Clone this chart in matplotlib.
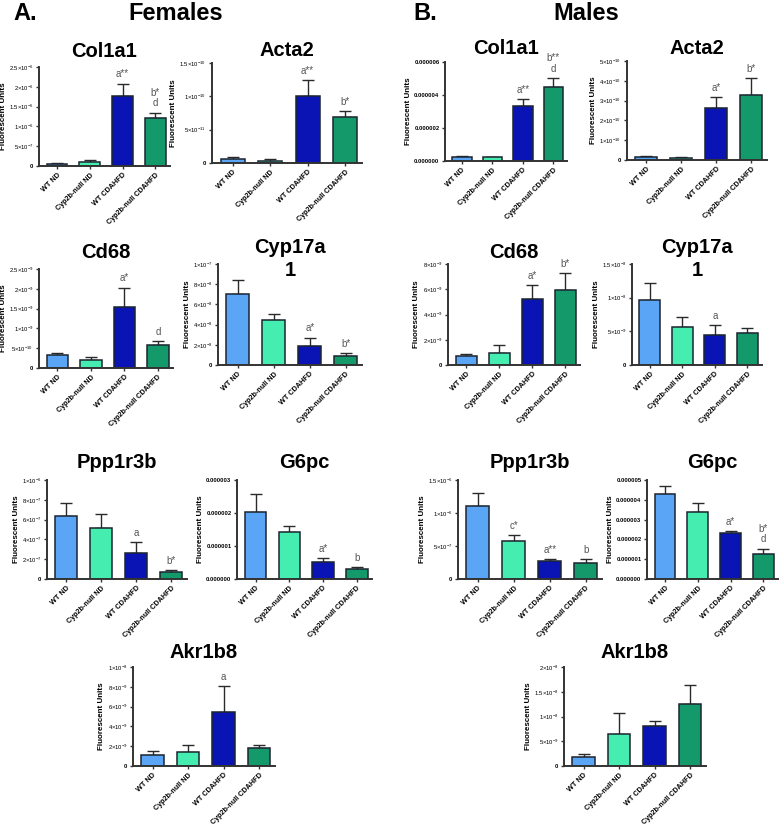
import matplotlib.pyplot as plt
import numpy as np

plt.rcParams['font.family'] = ['Liberation Sans', 'DejaVu Sans']
plt.rcParams['mathtext.fontset'] = 'custom'
plt.rcParams['mathtext.rm'] = 'Liberation Sans'
plt.rcParams['mathtext.bf'] = 'Liberation Sans:bold'

groups = ['WT ND', 'Cyp2b-null ND', 'WT CDAHFD', 'Cyp2b-null CDAHFD']
colors = ['#5aa5f5', '#45eeb0', '#0a14b4', '#13996a']

# Females
f_col1a1 = [0.06e-6, 0.10e-6, 1.78e-6, 1.21e-6]
f_col1a1_err = [0.02e-6, 0.05e-6, 0.30e-6, 0.14e-6]
f_acta2 = [0.055e-10, 0.035e-10, 1.01e-10, 0.685e-10]
f_acta2_err = [0.035e-10, 0.03e-10, 0.23e-10, 0.095e-10]
f_cd68 = [0.33e-9, 0.20e-9, 1.54e-9, 0.57e-9]
f_cd68_err = [0.06e-9, 0.09e-9, 0.49e-9, 0.12e-9]
f_cyp17a1 = [7.05e-8, 4.50e-8, 1.89e-8, 0.86e-8]
f_cyp17a1_err = [1.39e-8, 0.57e-8, 0.83e-8, 0.33e-8]
f_ppp1r3b = [0.64e-6, 0.513e-6, 0.26e-6, 0.07e-6]
f_ppp1r3b_err = [0.13e-6, 0.147e-6, 0.11e-6, 0.024e-6]
f_g6pc = [2.02e-6, 1.41e-6, 0.52e-6, 0.31e-6]
f_g6pc_err = [0.55e-6, 0.19e-6, 0.12e-6, 0.05e-6]
f_akr1b8 = [1.11e-9, 1.44e-9, 5.44e-9, 1.85e-9]
f_akr1b8_err = [0.40e-9, 0.71e-9, 2.61e-9, 0.30e-9]

# Males
m_col1a1 = [0.22e-6, 0.22e-6, 3.32e-6, 4.51e-6]
m_col1a1_err = [0.06e-6, 0.04e-6, 0.42e-6, 0.52e-6]
m_acta2 = [0.13e-10, 0.08e-10, 2.63e-10, 3.29e-10]
m_acta2_err = [0.07e-10, 0.05e-10, 0.56e-10, 0.84e-10]
m_cd68 = [0.72e-9, 0.95e-9, 5.19e-9, 5.91e-9]
m_cd68_err = [0.15e-9, 0.64e-9, 1.17e-9, 1.37e-9]
m_cyp17a1 = [0.97e-8, 0.57e-8, 0.44e-8, 0.48e-8]
m_cyp17a1_err = [0.25e-8, 0.14e-8, 0.15e-8, 0.07e-8]
m_ppp1r3b = [1.107e-6, 0.57e-6, 0.28e-6, 0.24e-6]
m_ppp1r3b_err = [0.19e-6, 0.10e-6, 0.02e-6, 0.057e-6]
m_g6pc = [4.30e-6, 3.39e-6, 2.30e-6, 1.24e-6]
m_g6pc_err = [0.42e-6, 0.45e-6, 0.13e-6, 0.30e-6]
m_akr1b8 = [0.19e-8, 0.65e-8, 0.805e-8, 1.255e-8]
m_akr1b8_err = [0.05e-8, 0.42e-8, 0.095e-8, 0.385e-8]

# y tick values and labels
def sci(m, e):
    return r'$%s{\times}10^{%d}$' % (m, e)

f_col1a1_ticks = [0, 0.5e-6, 1e-6, 1.5e-6, 2e-6, 2.5e-6]
f_col1a1_labels = ['0', sci('5', -7), sci('1', -6), sci('1.5', -6), sci('2', -6), sci('2.5', -6)]
f_acta2_ticks = [0, 0.5e-10, 1e-10, 1.5e-10]
f_acta2_labels = ['0', sci('5', -11), sci('1', -10), sci('1.5', -10)]
f_cd68_ticks = [0, 0.5e-9, 1e-9, 1.5e-9, 2e-9, 2.5e-9]
f_cd68_labels = ['0', sci('5', -10), sci('1', -9), sci('1.5', -9), sci('2', -9), sci('2.5', -9)]
f_cyp17a1_ticks = [0, 2e-8, 4e-8, 6e-8, 8e-8, 1e-7]
f_cyp17a1_labels = ['0', sci('2', -8), sci('4', -8), sci('6', -8), sci('8', -8), sci('1', -7)]
f_ppp1r3b_ticks = [0, 2e-7, 4e-7, 6e-7, 8e-7, 1e-6]
f_ppp1r3b_labels = ['0', sci('2', -7), sci('4', -7), sci('6', -7), sci('8', -7), sci('1', -6)]
f_g6pc_ticks = [0, 1e-6, 2e-6, 3e-6]
f_g6pc_labels = ['0.000000', '0.000001', '0.000002', '0.000003']
f_akr1b8_ticks = [0, 2e-9, 4e-9, 6e-9, 8e-9, 1e-8]
f_akr1b8_labels = ['0', sci('2', -9), sci('4', -9), sci('6', -9), sci('8', -9), sci('1', -8)]

m_col1a1_ticks = [0, 2e-6, 4e-6, 6e-6]
m_col1a1_labels = ['0.000000', '0.000002', '0.000004', '0.000006']
m_acta2_ticks = [0, 1e-10, 2e-10, 3e-10, 4e-10, 5e-10]
m_acta2_labels = ['0', sci('1', -10), sci('2', -10), sci('3', -10), sci('4', -10), sci('5', -10)]
m_cd68_ticks = [0, 2e-9, 4e-9, 6e-9, 8e-9]
m_cd68_labels = ['0', sci('2', -9), sci('4', -9), sci('6', -9), sci('8', -9)]
m_cyp17a1_ticks = [0, 0.5e-8, 1e-8, 1.5e-8]
m_cyp17a1_labels = ['0', sci('5', -9), sci('1', -8), sci('1.5', -8)]
m_ppp1r3b_ticks = [0, 0.5e-6, 1e-6, 1.5e-6]
m_ppp1r3b_labels = ['0', sci('5', -7), sci('1', -6), sci('1.5', -6)]
m_g6pc_ticks = [0, 1e-6, 2e-6, 3e-6, 4e-6, 5e-6]
m_g6pc_labels = ['0.000000', '0.000001', '0.000002', '0.000003', '0.000004', '0.000005']
m_akr1b8_ticks = [0, 0.5e-8, 1e-8, 1.5e-8, 2e-8]
m_akr1b8_labels = ['0', sci('5', -9), sci('1', -8), sci('1.5', -8), sci('2', -8)]

W, H = 780, 827
fig = plt.figure(figsize=(W / 100, H / 100), dpi=100)


def panel(box, title, vals, errs, ticks, labels, notes, title_dy=-15):
    # box: axes edges in pixels (left, top, right, bottom)
    x0, yt, x1, yb = box
    ax = fig.add_axes([x0 / W, 1 - yb / H, (x1 - x0) / W, (yb - yt) / H])
    x = np.arange(len(groups))
    ax.bar(x, vals, width=0.64, color=colors, edgecolor='#1c2530', linewidth=1.1, zorder=2)
    ax.errorbar(x, vals, yerr=[np.zeros(4), errs], fmt='none', ecolor='#2a2a2a',
                elinewidth=1.0, capsize=4.5, capthick=1.0, zorder=1)
    ax.set_xlim(-0.55, 3.45)
    ax.set_ylim(0, ticks[-1])
    ax.set_yticks(ticks)
    ax.set_yticklabels(labels, fontsize=4.2, fontweight='bold')
    ax.set_xticks(x)
    ax.set_xticklabels(groups, rotation=45, ha='right', rotation_mode='anchor',
                       fontsize=5.2, fontweight='bold')
    ax.tick_params(axis='both', length=2.5, width=1.0, pad=1.5, color='#333333')
    for s in ['top', 'right']:
        ax.spines[s].set_visible(False)
    for s in ['left', 'bottom']:
        ax.spines[s].set_linewidth(1.4)
        ax.spines[s].set_color('#333333')
    ax.set_ylabel('Fluorescent Units', fontsize=5.8, fontweight='bold', labelpad=1.5)
    ax.annotate(title, (0.5, 1), xycoords='axes fraction', xytext=(0, -title_dy * 0.72),
                textcoords='offset points', ha='center', va='center',
                fontsize=14.5, fontweight='bold', linespacing=1.3)
    for i, txt in notes.items():
        ax.annotate(txt, (i, vals[i] + errs[i]), xytext=(0, 3), textcoords='offset points',
                    ha='center', va='bottom', fontsize=7, color='#555555', linespacing=1.1)
    return ax


panel((39, 67, 170, 166), 'Col1a1', f_col1a1, f_col1a1_err, f_col1a1_ticks, f_col1a1_labels,
      {2: 'a**', 3: 'b*\nd'})
panel((212, 63, 362, 163), 'Acta2', f_acta2, f_acta2_err, f_acta2_ticks, f_acta2_labels,
      {2: 'a**', 3: 'b*'}, -13)
panel((39, 269, 173, 368), 'Cd68', f_cd68, f_cd68_err, f_cd68_ticks, f_cd68_labels,
      {2: 'a*', 3: 'd'}, -17)
panel((218, 264, 362, 365), 'Cyp17a\n1', f_cyp17a1, f_cyp17a1_err, f_cyp17a1_ticks,
      f_cyp17a1_labels, {2: 'a*', 3: 'b*'}, -5)
panel((47, 480, 187, 579), 'Ppp1r3b', f_ppp1r3b, f_ppp1r3b_err, f_ppp1r3b_ticks,
      f_ppp1r3b_labels, {2: 'a', 3: 'b*'}, -17)
panel((237, 480, 372, 579), 'G6pc', f_g6pc, f_g6pc_err, f_g6pc_ticks, f_g6pc_labels,
      {2: 'a*', 3: 'b'}, -17)
panel((133, 667, 275, 766), 'Akr1b8', f_akr1b8, f_akr1b8_err, f_akr1b8_ticks, f_akr1b8_labels,
      {2: 'a'}, -14)

panel((445, 62, 567, 161), 'Col1a1', m_col1a1, m_col1a1_err, m_col1a1_ticks, m_col1a1_labels,
      {2: 'a**', 3: 'b**\nd'}, -14)
panel((627, 61, 767, 160), 'Acta2', m_acta2, m_acta2_err, m_acta2_ticks, m_acta2_labels,
      {2: 'a*', 3: 'b*'}, -12)
panel((448, 264, 580, 365), 'Cd68', m_cd68, m_cd68_err, m_cd68_ticks, m_cd68_labels,
      {2: 'a*', 3: 'b*'}, -12)
panel((632, 264, 762, 365), 'Cyp17a\n1', m_cyp17a1, m_cyp17a1_err, m_cyp17a1_ticks,
      m_cyp17a1_labels, {2: 'a'}, -5)
panel((458, 480, 602, 579), 'Ppp1r3b', m_ppp1r3b, m_ppp1r3b_err, m_ppp1r3b_ticks,
      m_ppp1r3b_labels, {1: 'c*', 2: 'a**', 3: 'b'}, -17)
panel((647, 480, 778, 579), 'G6pc', m_g6pc, m_g6pc_err, m_g6pc_ticks, m_g6pc_labels,
      {2: 'a*', 3: 'b*\nd'}, -17)
panel((564, 667, 706, 766), 'Akr1b8', m_akr1b8, m_akr1b8_err, m_akr1b8_ticks, m_akr1b8_labels,
      {}, -14)

fig.text(25 / W, 1 - 13 / H, 'A.', fontsize=17, fontweight='bold', ha='center', va='center')
fig.text(176 / W, 1 - 13 / H, 'Females', fontsize=17, fontweight='bold', ha='center', va='center')
fig.text(425 / W, 1 - 13 / H, 'B.', fontsize=17, fontweight='bold', ha='center', va='center')
fig.text(586 / W, 1 - 13 / H, 'Males', fontsize=17, fontweight='bold', ha='center', va='center')

fig.savefig('out.png', dpi=100)
